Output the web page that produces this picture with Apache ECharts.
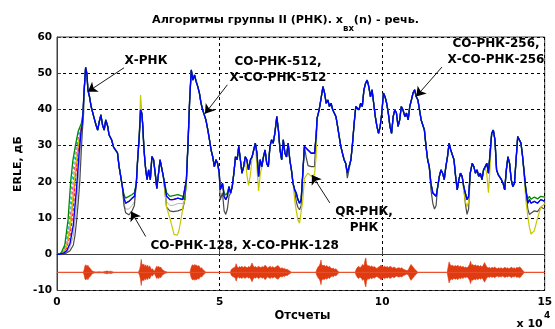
<!DOCTYPE html>
<html>
<head>
<meta charset="utf-8">
<script src="https://cdn.jsdelivr.net/npm/echarts@6/dist/echarts.min.js"></script>
<style>
  html, body { margin: 0; padding: 0; background: #ffffff; }
  #chart { width: 555px; height: 329px; }
</style>
</head>
<body>
<div id="chart"></div>
<script>
// Positions along the x axis are in thousands of samples; the axis shows them in units of 10^4.
const xTickLabels = ['0', '5', '10', '15'];
const yTickLabels = ['-10', '0', '10', '20', '30', '40', '50', '60'];

// ERLE trace shared by all algorithms once they have converged, [thousand samples, dB]
const erleShared = [
  [8.0, 39], [8.3, 44.5], [8.8, 51.6], [9.2, 49.9], [9.5, 45.4], [10, 43.5], [10.5, 40.8], [11.3, 38],
  [12, 35.7], [12.5, 34.3], [13, 36.6], [13.5, 38.5], [14, 35.7], [14.5, 34.3], [15, 37.1], [15.6, 35.3],
  [16, 33], [16.8, 31.6], [17.4, 29.6], [18, 29.8], [18.6, 28], [19.1, 24.2], [19.6, 21.5], [20.1, 18.7],
  [20.6, 15.5], [21.1, 14.1], [22.1, 14.6], [23.1, 15.5], [23.8, 16], [24.4, 19.6], [24.8, 26.1], [25.3, 32.5],
  [25.7, 39.9], [26.1, 38.9], [26.4, 35.3], [26.7, 29.8], [27, 26.1], [27.3, 23.3], [27.7, 20.6], [28.2, 23.3],
  [28.7, 20.6], [29.2, 27], [29.7, 26.1], [30.2, 22.4], [30.7, 18.2], [31.2, 18.7], [31.7, 26.1], [32.2, 26.1],
  [32.7, 21.5], [33.7, 16], [34.7, 15.1], [35.7, 15.1], [37.2, 15.5], [38.7, 15.1], [39.3, 15], [39.8, 20.6],
  [40.3, 30.7], [40.8, 42.6], [41.3, 50.9], [41.8, 48.1], [42.3, 49.5], [42.8, 47.7], [43.3, 46.3], [43.8, 44.5],
  [44.3, 41.7], [44.8, 39.9], [45.3, 38.5], [45.8, 37.1], [46.4, 34.3], [46.9, 31.6], [47.4, 28.8], [47.9, 26.9],
  [48.4, 24.2], [48.9, 26.1], [49.4, 25.1], [49.9, 22.4], [50.2, 17.8], [50.6, 17.8], [50.9, 19.6], [51.4, 16],
  [51.9, 15.1], [52.4, 16], [52.9, 18.7], [53.4, 16.9], [53.9, 18.7], [54.4, 22.4], [54.9, 26.9], [55.4, 26.1],
  [55.9, 29.8], [56.4, 26.1], [56.9, 22.4], [57.4, 24.2], [57.9, 26.9], [58.4, 26.1], [58.9, 23.3], [59.5, 26.1],
  [60, 26.9], [60.5, 28.8], [61, 30.7], [61.5, 27.9], [62, 21.5], [62.5, 26.1], [63, 24.2], [63.5, 26.9],
  [64, 28.8], [64.5, 25.1], [65, 24.2], [65.5, 29.8], [66, 31.6], [66.5, 30.7], [67, 33.4], [67.6, 38],
  [68.1, 34.3], [68.6, 28.8], [69.1, 26.1], [69.6, 31.6], [70.1, 27.9], [70.6, 26.9], [71.1, 30.7], [71.6, 26.1],
  [72.1, 23.3], [72.6, 19.6], [73.1, 17.8], [73.6, 16.9], [74.1, 15.1], [74.6, 14.1], [75.1, 15.1], [75.6, 22.4],
  [76.1, 29.8], [76.6, 29.3], [77.2, 28.8], [77.7, 28.4], [78.2, 27.9], [78.7, 27.5], [79.2, 27.9], [79.7, 32.5],
  [80, 37.6], [80.4, 39], [80.8, 40.8], [81.3, 43.5], [81.8, 46.3], [82.3, 44.5], [82.8, 41.7], [83.3, 42.6],
  [83.8, 40.8], [84.3, 41.7], [84.8, 39.9], [85.3, 40.3], [85.8, 38], [86.3, 35.3], [86.8, 32.5], [87.3, 29.8],
  [87.8, 27.9], [88.3, 26.1], [88.8, 25.1], [89.3, 22.4], [89.8, 22.4], [90.4, 26.1], [90.9, 30.7], [91.4, 36.2],
  [91.9, 40.8], [92.4, 40.8], [92.9, 39.9], [93.4, 41.7], [93.9, 40.8], [94.4, 45.4], [94.9, 47.2], [95.4, 48.1],
  [95.9, 46.3], [96.4, 43.5], [96.9, 45.4], [97.4, 41.7], [97.9, 38], [98.4, 35.3], [98.9, 33.4], [99.4, 35.3],
  [99.9, 39], [100.4, 44.5], [100.9, 43.5], [101.4, 41.7], [101.9, 39], [102.4, 35.3], [102.9, 33.4], [103.4, 38],
  [103.9, 39.9], [104.4, 39], [104.9, 35.3], [105.4, 37.1], [105.9, 40.8], [106.4, 39.9], [107, 38], [107.5, 39],
  [108, 37.1], [108.5, 40.8], [109, 42.6], [109.5, 44.5], [110, 45.4], [110.5, 43.5], [111, 42.6], [111.5, 39.9],
  [112, 37.1], [112.5, 36.6], [113, 34.3], [113.5, 29.8], [114, 26.1], [114.5, 24.2], [115, 19.6], [115.6, 16.9],
  [116.1, 16.9], [116.6, 16], [117.1, 18.7], [117.6, 21.5], [118.1, 23.3], [118.6, 22.4], [119.1, 20.6], [119.6, 24.2],
  [120.1, 26.9], [120.6, 30.7], [121.1, 28.8], [121.6, 28.8], [122.1, 26.1], [122.6, 21.5], [123.1, 17.8], [123.6, 20.6],
  [124.1, 22.4], [124.6, 21.5], [125.1, 18.7], [125.6, 16.9], [126.1, 15.1], [126.6, 16], [127.1, 22.4], [127.7, 25.1],
  [128.2, 24.2], [128.7, 22.4], [129.2, 23.3], [129.7, 21.5], [130.2, 22.4], [130.7, 20.6], [131.2, 23.3], [131.7, 24.2],
  [132.2, 25.1], [132.7, 22.4], [133.2, 27.9], [133.7, 33.4], [134.2, 34.3], [134.7, 31.6], [135.2, 23.3], [135.7, 22],
  [136.2, 21.5], [136.7, 20.6], [137.2, 19.6], [137.7, 17.8], [138.2, 23.3], [138.7, 26.9], [139.2, 25.1], [139.7, 20.6],
  [140.2, 18.7], [140.7, 19.6], [141.2, 26.1], [141.7, 32.5], [142.2, 33], [142.7, 30.7], [143.2, 27], [143.7, 22.4],
  [144.2, 17.8], [144.8, 14.1], [145.3, 15.1], [145.8, 14.1], [146.8, 14.6], [147.8, 14.1], [148.8, 15.1], [150, 14.6]
];

// Convergence from zero at the start, one run per algorithm
const startGreen   = [[0, 0], [1, 0.2], [1.5, 0.8], [2.4, 2.6], [3.4, 9.5], [4.2, 20], [4.9, 26], [5.7, 30.2], [6.5, 33.9], [7.5, 36.2]];
const startCyan    = [[0, 0], [1, 0.1], [2, 1], [3, 4.5], [3.8, 10], [4.6, 20], [5.4, 27], [6.2, 32], [7, 35], [7.8, 36.5]];
const startMagenta = [[0, 0], [1, 0.1], [2, 0.8], [3, 3], [4, 9], [5, 20], [5.8, 27], [6.6, 32.5], [7.8, 36]];
const startOrange  = [[0, 0], [1, 0.1], [2, 0.5], [3, 2.2], [4, 6.5], [5, 15], [5.8, 23], [6.6, 30], [7.2, 34], [7.8, 36]];
const startYellow  = [[0, 0], [1, 0.1], [2, 0.5], [3, 2.5], [4, 7.5], [5, 17], [5.8, 25], [6.6, 31], [7.8, 36]];
const startRed     = [[0, 0], [1, 0], [2, 0.4], [3, 1.8], [4, 5], [5, 12], [5.6, 20], [6.4, 28], [7.2, 33.5], [7.8, 36]];
const startSilver  = [[0, 0], [2, 0.2], [3, 0.6], [4, 2], [5, 5], [6, 13], [6.8, 24], [7.5, 33], [7.8, 36]];
const startBlue    = [[0, 0], [1, 0], [2, 0.3], [3, 1], [4, 3], [5, 8], [6, 18], [6.8, 28], [7.4, 34], [7.8, 36]];
const startGray    = [[0, 0], [2, 0.1], [3, 0.4], [4, 1], [5, 2.5], [5.5, 5], [6, 9], [6.5, 14], [7, 20], [7.5, 29], [7.8, 34], [8.2, 39]];

// Stretches where individual algorithms leave the shared trace
const greenValleys = [
  [[20.6, 16.5], [21.1, 15.5], [22.1, 16], [23.1, 16.5], [23.8, 17]],
  [[33.7, 17], [34.7, 16], [35.7, 16.2], [37.2, 16.5], [38.7, 16]],
  [[51.4, 17], [51.9, 16.3], [52.4, 17]],
  [[144.8, 15.3], [145.3, 16], [145.8, 15.2], [146.8, 15.8], [147.8, 15.3], [148.8, 16], [150, 15.8]]
];
const silverValleys = [
  [[20.6, 14], [21.1, 12.5], [22.1, 12.5], [23.1, 13.5], [23.8, 14.5]],
  [[33.7, 14.5], [34.7, 13.5], [35.7, 13.5], [37.2, 14], [38.7, 14]]
];
const grayValleys = [
  [[20.6, 13.5], [21.1, 11.5], [22.1, 10.9], [23.1, 12], [23.8, 13.5]],
  [[33.7, 13], [34.7, 12], [35.7, 11.8], [37.2, 12], [38.7, 12.5]],
  [[50.2, 15], [50.6, 15.5], [50.9, 17], [51.4, 12], [51.9, 11], [52.4, 12.5], [52.9, 16]],
  [[73.6, 14.5], [74.1, 13], [74.6, 12.3], [75.1, 13.5]],
  [[76.6, 27], [77.2, 24.5], [77.7, 24], [78.2, 24.2], [78.7, 23.8], [79.2, 24.2]],
  [[89.3, 21], [89.8, 20.5]],
  [[115, 18], [115.6, 14], [116.1, 12.5], [116.6, 13.5]],
  [[125.6, 14], [126.1, 11], [126.6, 12.5]],
  [[144.8, 12.5], [145.3, 11], [145.8, 10.5], [146.8, 12], [147.8, 11.8], [148.8, 13], [150, 12.5]]
];
const yellowValleys = [
  [[25.3, 33], [25.7, 44], [26.1, 39]],
  [[33.7, 13], [34.2, 11.5], [34.7, 10], [35.1, 9.5], [35.5, 7.3], [36, 5.5], [36.5, 5], [37, 5.3], [37.5, 6.5], [38.3, 10.5], [38.9, 14]],
  [[58.4, 22], [58.9, 19], [59.5, 22]],
  [[61.5, 24], [62, 17.5], [62.5, 22]],
  [[73.1, 15], [73.6, 12], [74.1, 9.5], [74.6, 8.6], [75.1, 9], [75.6, 15], [76.1, 21], [76.6, 21.5], [77.2, 22.4], [77.7, 22], [78.2, 21.5], [78.7, 21.8], [79.2, 22], [79.7, 27]],
  [[125.1, 17.5], [125.6, 14.5], [126.1, 13.2], [126.6, 14.5]],
  [[132.2, 22], [132.7, 17], [133.2, 24]],
  [[143.7, 21], [144.2, 15], [144.8, 10.5], [145.3, 7.5], [145.8, 5.6], [146.3, 5.4], [146.8, 6.5], [147.8, 10], [148.8, 13], [150, 14]]
];

// Speech input x_вх(n): envelope of the bursts around the -5 dB offset, [thousand samples, half-amplitude]
const speechLevel = -5;
const speechEnvelope = [
  [0, 0], [8.0, 0], [8.3, 0.6], [8.6, 1.8], [8.9, 2.1], [9.2, 1.6], [9.5, 2.0], [9.8, 1.5], [10.1, 1.2], [10.4, 0.9],
  [10.7, 0.5], [11.0, 0.3], [11.5, 0.15], [12, 0.1], [13, 0.15], [14, 0.1], [15, 0.3], [15.5, 0.4], [16, 0.2],
  [16.5, 0.35], [17, 0.2], [17.6, 0],
  [25.0, 0], [25.4, 0.8], [25.7, 2.0], [25.9, 3.6], [26.1, 2.4], [26.4, 2.0], [26.7, 2.3], [27.0, 1.6], [27.3, 2.1],
  [27.6, 1.5], [27.9, 2.0], [28.2, 1.3], [28.5, 1.8], [28.8, 1.2], [29.1, 0.8], [29.4, 1.0], [29.7, 0.5], [30.0, 0.4],
  [30.4, 1.2], [30.7, 1.7], [31.0, 1.4], [31.3, 1.7], [31.6, 1.2], [31.9, 1.5], [32.2, 1.0], [32.6, 0.6], [33.0, 0.4],
  [33.5, 0.2], [34.2, 0],
  [40.9, 0], [41.2, 1.2], [41.5, 1.9], [41.8, 2.1], [42.1, 1.8], [42.4, 2.2], [42.7, 1.9], [43.0, 2.0], [43.3, 1.6],
  [43.6, 1.9], [43.9, 1.5], [44.2, 1.1], [44.5, 1.3], [44.8, 0.9], [45.2, 0.5], [45.6, 0.2], [46, 0],
  [53.3, 0], [53.6, 0.8], [54.0, 1.1], [54.4, 1.3], [54.8, 1.5], [55.1, 2.4], [55.4, 1.6], [55.8, 1.2], [56.1, 1.6],
  [56.5, 1.4], [56.9, 1.7], [57.3, 1.3], [57.7, 1.6], [58.1, 1.5], [58.5, 1.2], [58.9, 1.6], [59.3, 1.4], [59.7, 2.0],
  [60.0, 2.6], [60.3, 1.9], [60.7, 1.4], [61.1, 1.6], [61.5, 1.2], [61.9, 1.7], [62.3, 1.5], [62.7, 1.3], [63.1, 1.6],
  [63.5, 1.4], [64.0, 2.0], [64.4, 1.6], [64.8, 1.2], [65.2, 1.5], [65.6, 1.7], [66.0, 1.3], [66.4, 1.6], [66.8, 1.2],
  [67.2, 1.5], [67.6, 1.7], [68.0, 1.9], [68.4, 1.4], [68.8, 1.1], [69.2, 1.3], [69.6, 1.0], [70.0, 1.1], [70.4, 0.8],
  [70.8, 0.9], [71.2, 0.6], [71.6, 0.4], [72.1, 0],
  [79.6, 0], [79.9, 0.8], [80.3, 1.5], [80.7, 1.9], [81.0, 2.6], [81.2, 3.4], [81.4, 2.2], [81.8, 1.8], [82.2, 2.0],
  [82.6, 1.6], [83.0, 1.9], [83.4, 1.4], [83.8, 1.7], [84.2, 1.2], [84.6, 1.0], [85.0, 1.2], [85.4, 0.8], [85.8, 1.0],
  [86.2, 0.5], [86.8, 0],
  [91.7, 0], [92.0, 0.8], [92.4, 1.4], [92.8, 1.7], [93.2, 1.3], [93.6, 1.6], [94.0, 2.2], [94.4, 1.8], [94.8, 3.6],
  [95.0, 4.0], [95.2, 2.4], [95.6, 1.7], [96.0, 1.9], [96.4, 1.5], [96.8, 1.8], [97.2, 1.4], [97.6, 1.6], [98.0, 1.3],
  [98.4, 1.1], [98.8, 1.4], [99.2, 1.6], [99.6, 2.0], [100.0, 1.8], [100.4, 1.5], [100.8, 1.7], [101.2, 1.4],
  [101.6, 1.6], [102.0, 1.3], [102.4, 1.7], [102.8, 1.5], [103.2, 1.2], [103.6, 1.5], [104.0, 1.3], [104.4, 1.0],
  [104.8, 1.2], [105.2, 1.3], [105.6, 1.1], [106.0, 1.3], [106.5, 0.9], [107.0, 0.7], [107.5, 0.5], [108.0, 0.6],
  [108.5, 1.6], [108.9, 2.2], [109.2, 1.8], [109.6, 1.4], [110.0, 0.9], [110.5, 0.5], [111.0, 0],
  [120.0, 0], [120.3, 1.5], [120.6, 2.9], [120.9, 2.2], [121.3, 1.8], [121.7, 2.0], [122.1, 1.6], [122.5, 1.9],
  [122.9, 1.7], [123.3, 2.0], [123.7, 1.5], [124.1, 1.8], [124.5, 1.4], [124.9, 1.7], [125.3, 1.3], [125.7, 1.5],
  [126.1, 1.2], [126.5, 1.6], [126.9, 2.2], [127.2, 3.1], [127.5, 2.0], [127.9, 2.2], [128.3, 1.8], [128.7, 2.1],
  [129.1, 1.7], [129.5, 2.0], [129.9, 1.6], [130.3, 1.9], [130.7, 1.5], [131.1, 2.0], [131.5, 2.7], [131.8, 2.2],
  [132.2, 1.5], [132.6, 1.2], [133.0, 1.4], [133.4, 1.1], [133.8, 1.4], [134.2, 1.2], [134.6, 1.5], [135.0, 1.2],
  [135.4, 1.0], [135.8, 1.3], [136.2, 1.1], [136.6, 1.3], [137.0, 1.0], [137.4, 1.2], [137.8, 1.4], [138.2, 1.1],
  [138.6, 1.3], [139.0, 1.0], [139.4, 1.2], [139.8, 1.5], [140.2, 1.1], [140.6, 1.3], [141.0, 1.0], [141.4, 1.4],
  [141.8, 1.2], [142.2, 1.5], [142.6, 1.3], [143.0, 0.8], [143.4, 0.4], [143.8, 0], [150, 0]
];

// Callout arrows, [tail, head] in axis units
const callouts = [
  [[20.6, 51.5], [9.5, 44.9]],
  [[52.4, 46.8], [45.5, 38.8]],
  [[118.4, 51.7], [110.5, 43.6]],
  [[83.9, 14.2], [78.4, 21.9]],
  [[27.3, 4.9], [22.8, 11.8]]
];

// Replace the shared trace by an algorithm's own points inside each of its stretches
function composeTrace(shared, stretches) {
  const spans = stretches.map(s => [s[0][0], s[s.length - 1][0]]);
  const kept = shared.filter(p => !spans.some(([a, b]) => p[0] >= a && p[0] <= b));
  return kept.concat(...stretches).sort((p, q) => p[0] - q[0]);
}

const traces = [
  { name: 'orange',  color: '#ff8c00', dash: 'solid',  width: 1,   stretches: [startOrange] },
  { name: 'red',     color: '#ff0000', dash: [3, 2],   width: 1,   stretches: [startRed] },
  { name: 'magenta', color: '#ff00ff', dash: [3, 2],   width: 1,   stretches: [startMagenta] },
  { name: 'cyan',    color: '#00c8c8', dash: [3, 2],   width: 1,   stretches: [startCyan] },
  { name: 'silver',  color: '#b4b4b4', dash: 'solid',  width: 1,   stretches: [startSilver, ...silverValleys] },
  { name: 'gray',    color: '#4a4a4a', dash: 'solid',  width: 1.2, stretches: [startGray, ...grayValleys] },
  { name: 'yellow',  color: '#c8c800', dash: 'solid',  width: 1.2, stretches: [startYellow, ...yellowValleys] },
  { name: 'green',   color: '#008a00', dash: 'solid',  width: 1.3, stretches: [startGreen, ...greenValleys] },
  { name: 'blue',    color: '#0000ff', dash: 'solid',  width: 1.4, stretches: [startBlue] }
];

const gridTop = 37, gridLeft = 57, gridWidth = 494, gridHeight = 253.5;
const speechColor = '#e03a10';
const tickFont = { fontFamily: 'DejaVu Sans', fontWeight: 'bold', fontSize: 10.5, color: '#000' };
const noteFont = 'bold 12px "DejaVu Sans"';

const series = [];

// thin zero line of the speech signal, drawn across the full width
series.push({
  name: 'speech-zero', type: 'line', silent: true,
  data: [[0, speechLevel], [150, speechLevel]],
  showSymbol: false, lineStyle: { width: 1, color: '#e8502a' }, z: 2
});

// speech bursts: one filled outline, upper edge forward and lower edge back
series.push({
  name: 'speech', type: 'custom', silent: true, clip: true, z: 2,
  data: speechEnvelope,
  encode: { x: 0, y: 1 },
  renderItem(params, api) {
    if (params.dataIndex !== 0) return null;
    const upper = speechEnvelope.map(([k, a]) => api.coord([k, speechLevel + a]));
    const lower = speechEnvelope.slice().reverse().map(([k, a]) => api.coord([k, speechLevel - a]));
    return {
      type: 'polygon',
      shape: { points: upper.concat(lower) },
      style: { fill: speechColor, stroke: speechColor, lineWidth: 0.6 }
    };
  }
});

traces.forEach(t => series.push({
  name: t.name, type: 'line', silent: true, showSymbol: false,
  data: composeTrace(erleShared, t.stretches),
  lineStyle: { color: t.color, width: t.width, type: t.dash }, z: 3
}));

series.push({
  name: 'callouts', type: 'line', silent: true, showSymbol: false, z: 5,
  data: [[0, null]],
  markLine: {
    silent: true, animation: false, symbol: ['none', 'arrow'], symbolSize: 9,
    label: { show: false },
    lineStyle: { color: '#000', width: 0.9, type: 'solid' },
    data: callouts.map(([a, b]) => [{ coord: a }, { coord: b }])
  }
});

function note(text, cx, cy) {
  return {
    type: 'text', x: cx, y: cy, silent: true, z: 20,
    style: { text, font: noteFont, fill: '#000', align: 'center', verticalAlign: 'middle', lineHeight: 16 }
  };
}

const chart = echarts.init(document.getElementById('chart'), null, { renderer: 'canvas' });
chart.setOption({
  animation: false,
  backgroundColor: '#ffffff',
  grid: {
    left: gridLeft, top: gridTop, width: gridWidth, height: gridHeight,
    show: true, borderColor: '#404040', borderWidth: 1, backgroundColor: '#ffffff'
  },
  xAxis: {
    type: 'value', min: 0, max: 150, interval: 50,
    axisLine: { show: true, lineStyle: { color: '#404040', width: 1 } },
    axisTick: { show: true, inside: true, length: 4, lineStyle: { color: '#404040' } },
    axisLabel: Object.assign({ margin: 6, formatter: v => xTickLabels[Math.round(v / 50)] }, tickFont),
    splitLine: { show: true, lineStyle: { color: '#000', type: [3, 3], width: 1 } }
  },
  yAxis: {
    type: 'value', min: -10, max: 60, interval: 10,
    axisLine: { show: true, lineStyle: { color: '#404040', width: 1 } },
    axisTick: { show: true, inside: true, length: 4, lineStyle: { color: '#404040' } },
    axisLabel: Object.assign({ margin: 5, formatter: v => yTickLabels[Math.round((v + 10) / 10)] }, tickFont),
    splitLine: { show: true, lineStyle: { color: '#000', type: [3, 3], width: 1 } }
  },
  series,
  graphic: [
    {
      type: 'text', x: 152, y: 20, silent: true,
      style: {
        text: '{a|Алгоритмы группы II (РНК). x}{s|вх}{a|(n) - речь.}',
        align: 'left', verticalAlign: 'middle', fill: '#000',
        rich: {
          a: { fontFamily: 'DejaVu Sans', fontWeight: 'bold', fontSize: 11.2, lineHeight: 26 },
          s: { fontFamily: 'DejaVu Sans', fontWeight: 'bold', fontSize: 8.5, lineHeight: 6, verticalAlign: 'bottom' }
        }
      }
    },
    {
      type: 'text', x: 18, y: 164, rotation: Math.PI / 2, silent: true,
      style: { text: 'ERLE, дБ', font: 'bold 11px "DejaVu Sans"', fill: '#000', align: 'center', verticalAlign: 'middle' }
    },
    {
      type: 'text', x: 302.5, y: 316, silent: true,
      style: { text: 'Отсчеты', font: 'bold 11.5px "DejaVu Sans"', fill: '#000', align: 'center', verticalAlign: 'middle' }
    },
    {
      type: 'text', x: 516.5, y: 324, silent: true,
      style: { text: 'x 10', font: 'bold 11px "DejaVu Sans"', fill: '#000', align: 'left', verticalAlign: 'middle' }
    },
    {
      type: 'text', x: 544, y: 315.5, silent: true,
      style: { text: '4', font: 'bold 9px "DejaVu Sans"', fill: '#000', align: 'left', verticalAlign: 'middle' }
    },
    note('Х-РНК', 146, 61),
    note('СО-РНК-512,\nХ-СО-РНК-512', 278, 70.3),
    note('СО-РНК-256,\nХ-СО-РНК-256', 496, 52),
    note('QR-РНК,\nРНК', 364, 219.5),
    note('СО-РНК-128, Х-СО-РНК-128', 244.7, 246)
  ]
});
</script>
</body>
</html>
